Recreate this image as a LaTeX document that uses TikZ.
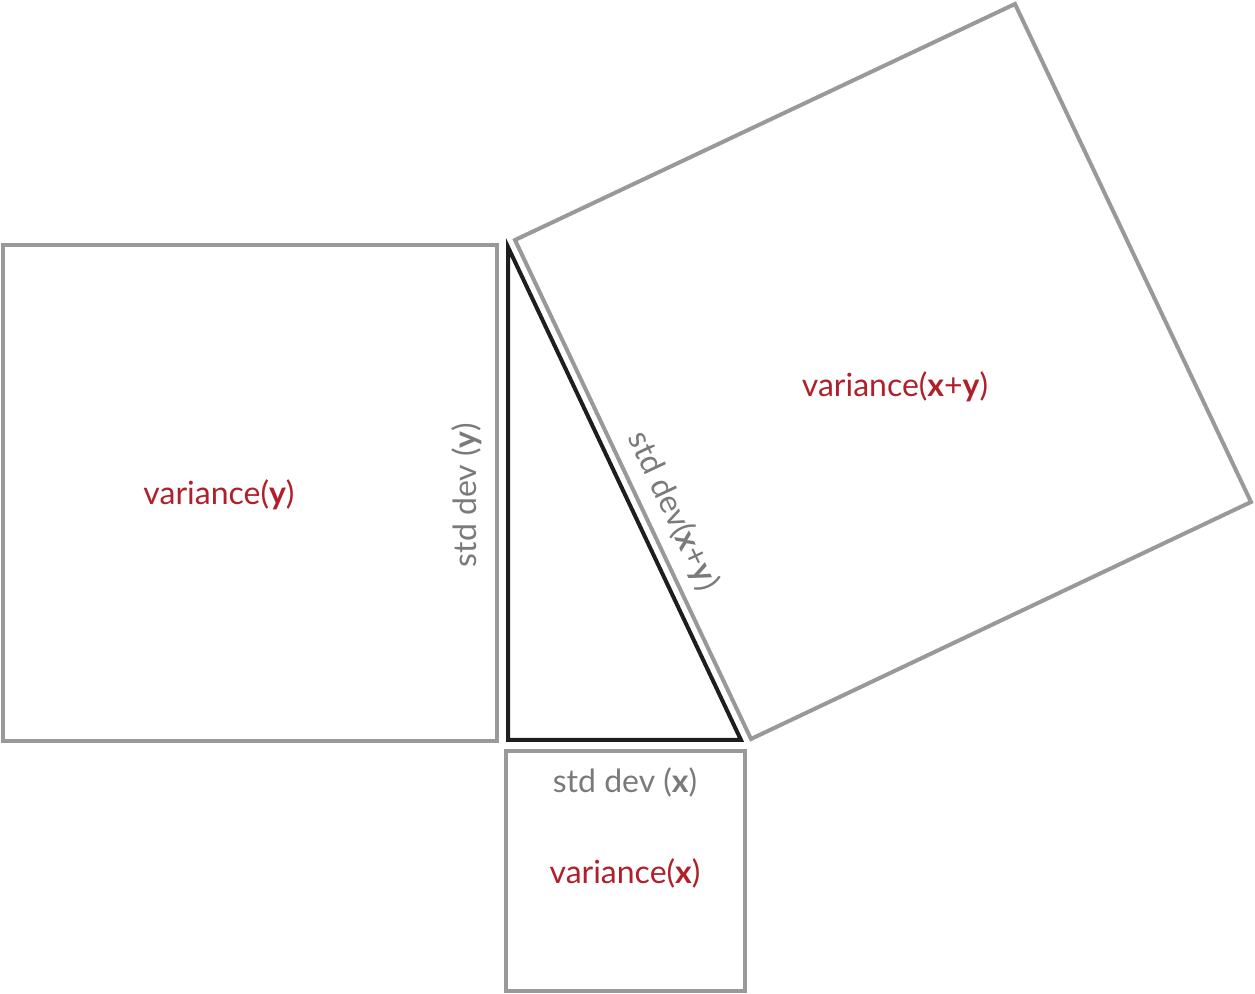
\documentclass[tikz,border=0pt]{standalone}
\usepackage{fontspec}
\setmainfont{Lato}
\definecolor{boxgray}{HTML}{999999}
\definecolor{txtgray}{HTML}{7A7A7A}
\definecolor{varred}{HTML}{B0202A}
\definecolor{triblack}{HTML}{1E1E1E}
\tikzset{
  sq/.style={draw=boxgray, line width=2pt, line join=miter},
  tri/.style={draw=triblack, line width=2pt, line join=miter},
  vartext/.style={text=varred, font=\fontsize{16}{19}\selectfont, inner sep=0pt},
  sdtext/.style={text=txtgray, font=\fontsize{16}{19}\selectfont, inner sep=0pt},
}
\begin{document}
\begin{tikzpicture}[x=0.5pt,y=-0.5pt]
\useasboundingbox (0,0) rectangle (1255,994);
% left square
\coordinate (L1) at (3,245);
\coordinate (L2) at (497,741);
\draw[sq] (L1) rectangle (L2);
% bottom square
\coordinate (B1) at (506,751);
\coordinate (B2) at (745,991);
\draw[sq] (B1) rectangle (B2);
% rotated square
\coordinate (R1) at (515,240);
\coordinate (R2) at (1015,4);
\coordinate (R3) at (1251,502);
\coordinate (R4) at (751,739);
\draw[sq] (R1) -- (R2) -- (R3) -- (R4) -- cycle;
% triangle
\coordinate (T1) at (508,247);
\coordinate (T2) at (508,740);
\coordinate (T3) at (741,740);
\draw[tri] (T1) -- (T2) -- (T3) -- cycle;
% labels
\node[vartext] (vy) at (219,495) {variance(\textbf{y})};
\node[sdtext, rotate=90] (sy) at (467,495) {std dev (\textbf{y})};
\node[vartext] (vxy) at (895,387) {variance(\textbf{x}+\textbf{y})};
\node[sdtext, rotate=-64.7] (sxy) at (673,511) {std dev(\textbf{x}+\textbf{y})};
\node[sdtext] (sx) at (625,782) {std dev (\textbf{x})};
\node[vartext] (vx) at (625,873) {variance(\textbf{x})};
\end{tikzpicture}
\end{document}
